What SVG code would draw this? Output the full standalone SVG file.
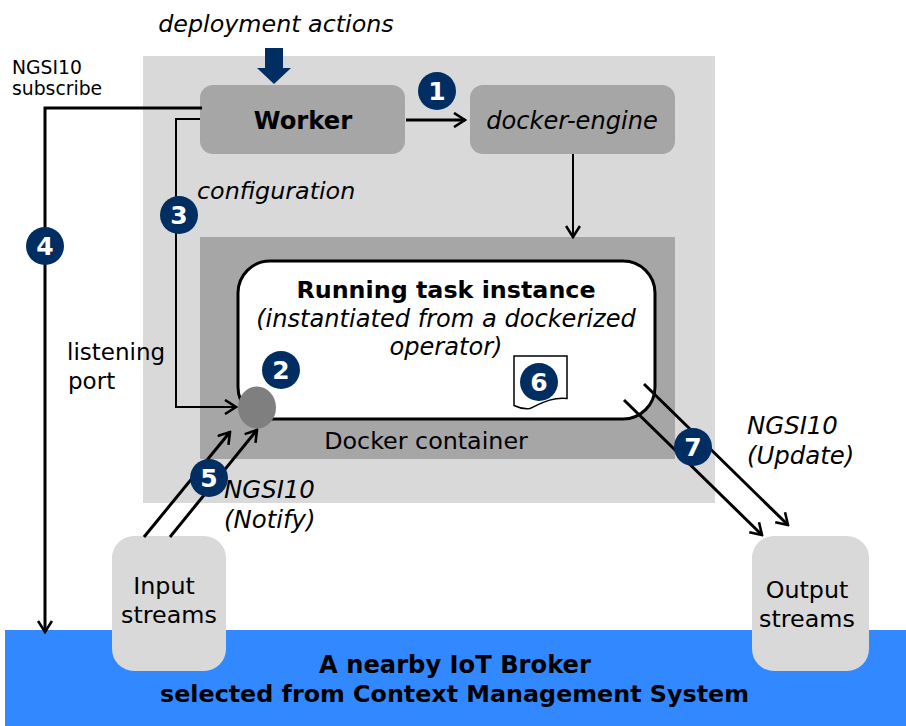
<svg xmlns="http://www.w3.org/2000/svg" width="906" height="726" viewBox="0 0 906 726">
<style>
text{font-family:"DejaVu Sans",Verdana,sans-serif;fill:#000;font-size:23.800px}
.i{font-style:italic}.b{font-weight:bold}.m{text-anchor:middle}
.c{fill:none;stroke:#000;stroke-width:3}
.t{stroke-width:2}
.bn{fill:#002d62}
.bt{fill:#fff;font-weight:bold;font-size:25px;text-anchor:middle}
.g{fill:#a6a6a6}.l{fill:#d9d9d9}
.n{font-size:24.400px}
.s{font-size:18.800px}
</style>
<defs>
<marker id="a" viewBox="0 0 16 16" refX="14" refY="8" markerWidth="16" markerHeight="16" markerUnits="userSpaceOnUse" orient="auto"><path d="M3 1L14 8L3 15" fill="none" stroke="#000" stroke-width="2.6"/></marker>
</defs>
<rect id="blue-bg" x="5" y="630" width="901" height="96" fill="#3288ff"/>
<g id="host"><rect x="143" y="56" width="572" height="447" class="l"/></g>
<g id="container"><rect x="200" y="237" width="475" height="222" class="g"/><text x="426" y="449" class="m">Docker container</text></g>
<g id="task"><rect x="238" y="261" width="417" height="158" rx="32" fill="#fff" stroke="#000" stroke-width="3"/>
<text x="446" y="298" class="b m">Running task instance</text>
<text x="446" y="327" class="i m" style="font-size:24.100px">(instantiated from a dockerized</text>
<text x="446" y="355" class="i m" style="font-size:24.100px">operator)</text></g>
<g id="worker"><rect x="200" y="85" width="205" height="69" rx="13" class="g"/><text x="303" y="129" class="b m" style="font-size:24.300px">Worker</text></g>
<g id="engine"><rect x="470" y="85" width="205" height="69" rx="13" class="g"/><text x="572" y="129" class="i m" style="font-size:24.100px">docker-engine</text></g>
<g id="input"><rect x="112" y="536" width="114" height="135" rx="22" class="l"/><text x="164" y="594" class="m">Input</text><text x="169" y="623" class="m">streams</text></g>
<g id="output"><rect x="752" y="536" width="117" height="135" rx="22" class="l"/><text x="807" y="598" class="m">Output</text><text x="807" y="627" class="m">streams</text></g>
<g id="port"><ellipse cx="257" cy="407.500" rx="19" ry="21" fill="#7f7f7f"/></g>
<g id="doc"><path d="M514 356H567V398.500C552 397 542 403 530 408.500C525 409 519 408 514 405.500Z" fill="#fff" stroke="#000" stroke-width="1.500"/></g>
<g id="connectors">
<path class="c" d="M406 120H465" marker-end="url(#a)"/>
<path class="c t" d="M573 154V237" marker-end="url(#a)"/>
<path class="c" d="M202 108H45V632" marker-end="url(#a)"/>
<path class="c t" d="M200 119H176V407H236" marker-end="url(#a)"/>
<path class="c" d="M144 537L230 432" marker-end="url(#a)"/>
<path class="c" d="M170 537L257 430" marker-end="url(#a)"/>
<path class="c" d="M644 384L788 525" marker-end="url(#a)"/>
<path class="c" d="M624 400L762 535" marker-end="url(#a)"/>
<path d="M265 48H283V68H291L274 84L257 68H265Z" fill="#002d62"/>
</g>
<g id="labels">
<text x="276" y="32" class="i m">deployment actions</text>
<text x="12" y="74" class="s">NGSI10</text>
<text x="12" y="95" class="s">subscribe</text>
<text x="197" y="199" class="i">configuration</text>
<text x="67" y="360" style="font-size:23px">listening</text>
<text x="68" y="389" style="font-size:23px">port</text>
<text x="224" y="498" class="i n">NGSI10</text>
<text x="224" y="528" class="i n">(Notify)</text>
<text x="747" y="434" class="i n">NGSI10</text>
<text x="747" y="464" class="i n">(Update)</text>
<text x="455" y="673" class="b m" style="font-size:24.200px">A nearby IoT Broker</text>
<text x="454.500" y="702" class="b m">selected from Context Management System</text>
</g>
<g id="badge-1"><circle cx="437" cy="91" r="19" class="bn"/><text x="437" y="100" class="bt">1</text></g>
<g id="badge-2"><circle cx="281" cy="370" r="19" class="bn"/><text x="281" y="379" class="bt">2</text></g>
<g id="badge-3"><circle cx="179" cy="215" r="19" class="bn"/><text x="179" y="224" class="bt">3</text></g>
<g id="badge-4"><circle cx="45" cy="246" r="19" class="bn"/><text x="45" y="255" class="bt">4</text></g>
<g id="badge-5"><circle cx="209" cy="478" r="19" class="bn"/><text x="209" y="487" class="bt">5</text></g>
<g id="badge-6"><circle cx="539" cy="382" r="19" class="bn"/><text x="539" y="391" class="bt">6</text></g>
<g id="badge-7"><circle cx="693" cy="447" r="19" class="bn"/><text x="693" y="456" class="bt">7</text></g>
</svg>
